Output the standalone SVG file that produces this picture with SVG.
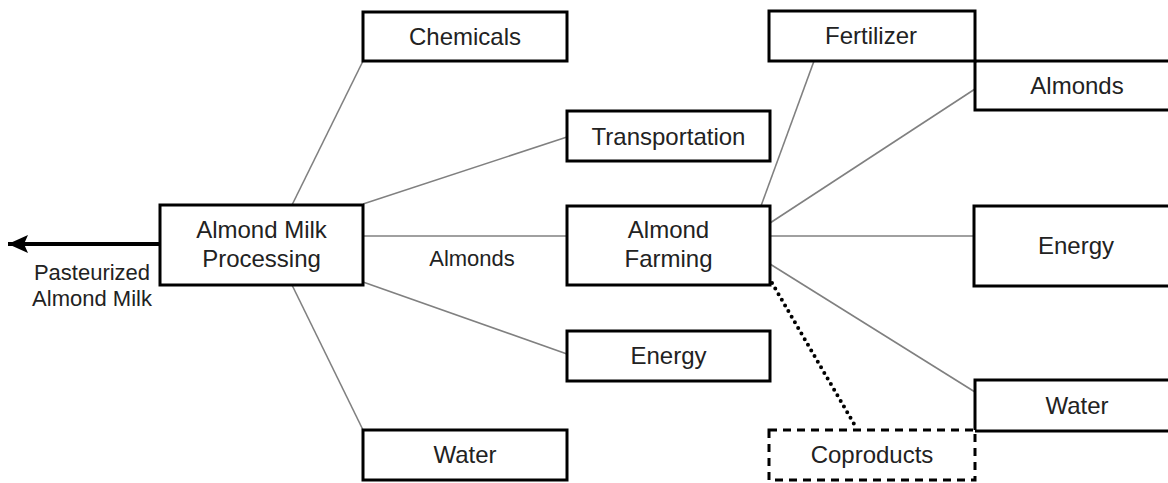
<svg xmlns="http://www.w3.org/2000/svg" width="1168" height="483" viewBox="0 0 1168 483">
<defs>
<style>
.box{fill:#fff;stroke:#000;stroke-width:3}
.dbox{fill:#fff;stroke:#000;stroke-width:3;stroke-dasharray:8,6}
.lbl{font-family:"Liberation Sans",Arial,sans-serif;font-size:24px;fill:#222;text-anchor:middle}
.sm{font-family:"Liberation Sans",Arial,sans-serif;font-size:22px;fill:#222;text-anchor:middle}
.ln{stroke:#808080;stroke-width:1.6;fill:none}
.dot{stroke:#000;stroke-width:4;stroke-linecap:round;stroke-dasharray:0,6.5;fill:none}
</style>
<marker id="ah" markerWidth="22" markerHeight="20" refX="20" refY="10" orient="auto" markerUnits="userSpaceOnUse">
<path d="M0,1 L20,10 L0,19 L4,10 Z" fill="#000"/>
</marker>
</defs>
<rect width="1168" height="483" fill="#fff"/>
<g id="connectors">
<line class="ln" x1="292" y1="205" x2="363" y2="61"/>
<line class="ln" x1="363" y1="204" x2="567" y2="137"/>
<line class="ln" x1="363" y1="236" x2="567" y2="236"/>
<line class="ln" x1="363" y1="282" x2="567" y2="354"/>
<line class="ln" x1="292" y1="285" x2="363" y2="430"/>
<line class="ln" x1="761" y1="206" x2="814" y2="61"/>
<line class="ln" x1="770" y1="223" x2="975" y2="89"/>
<line class="ln" x1="770" y1="236" x2="975" y2="236"/>
<line class="ln" x1="770" y1="264" x2="975" y2="392"/>
<line class="dot" x1="772" y1="283" x2="857" y2="429"/>
<line x1="160" y1="244" x2="8" y2="244" stroke="#000" stroke-width="4" marker-end="url(#ah)"/>
<text class="sm" x="92" y="280">Pasteurized</text>
<text class="sm" x="92" y="306">Almond Milk</text>
<text class="sm" x="472" y="266">Almonds</text>
</g>
<g id="chemicals"><rect class="box" x="363" y="12" width="204" height="49"/><text class="lbl" x="465" y="45">Chemicals</text></g>
<g id="transportation"><rect class="box" x="567" y="111" width="203" height="50"/><text class="lbl" x="668.5" y="144.5">Transportation</text></g>
<g id="processing"><rect class="box" x="160" y="205" width="203" height="80"/><text class="lbl" x="261.5" y="238">Almond Milk</text><text class="lbl" x="261.5" y="267">Processing</text></g>
<g id="farming"><rect class="box" x="567" y="206" width="203" height="79"/><text class="lbl" x="668.5" y="238">Almond</text><text class="lbl" x="668.5" y="267">Farming</text></g>
<g id="energy-mid"><rect class="box" x="567" y="331" width="203" height="50"/><text class="lbl" x="668.5" y="364">Energy</text></g>
<g id="water-left"><rect class="box" x="363" y="430" width="204" height="50"/><text class="lbl" x="465" y="463">Water</text></g>
<g id="almonds-right"><rect class="box" x="975" y="61" width="205" height="49"/><text class="lbl" x="1077" y="94">Almonds</text></g>
<g id="fertilizer"><rect class="box" x="769" y="11" width="206" height="50"/><text class="lbl" x="871" y="44">Fertilizer</text></g>
<g id="energy-right"><rect class="box" x="974" y="206" width="206" height="80"/><text class="lbl" x="1076" y="254">Energy</text></g>
<g id="water-right"><rect class="box" x="975" y="380" width="205" height="51"/><text class="lbl" x="1077" y="414">Water</text></g>
<g id="coproducts"><rect class="dbox" x="769" y="430" width="206" height="50"/><text class="lbl" x="872" y="463">Coproducts</text></g>
</svg>
